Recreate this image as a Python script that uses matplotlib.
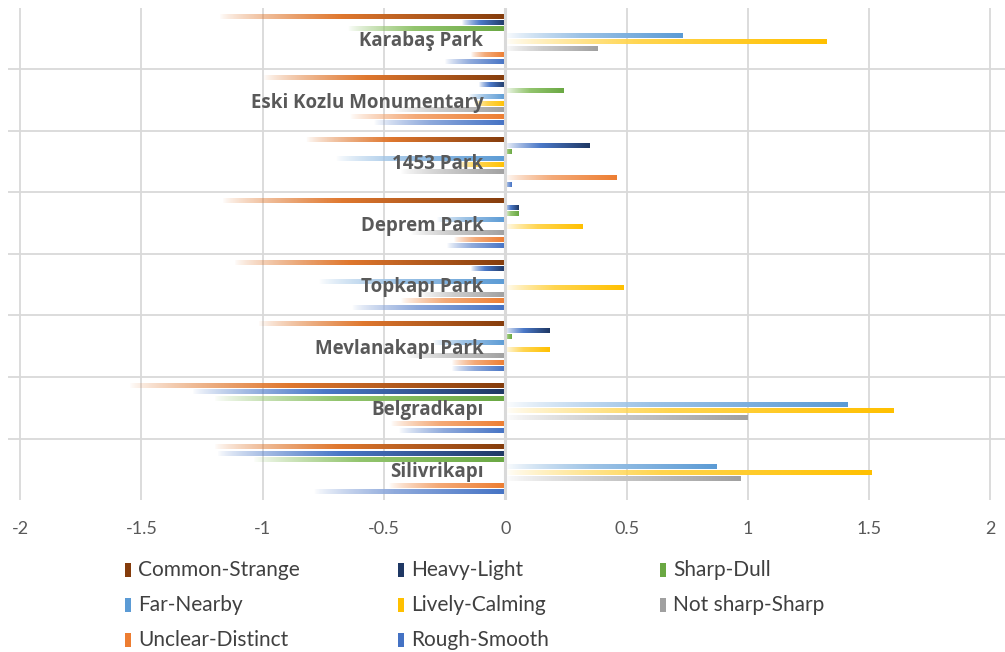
import numpy as np
import matplotlib
matplotlib.use("Agg")
import matplotlib.pyplot as plt
from matplotlib.colors import to_rgb
from matplotlib.patches import Rectangle

# parks, top to bottom
parks = ['Karabaş Park', 'Eski Kozlu Monumentary', '1453 Park', 'Deprem Park',
         'Topkapı Park', 'Mevlanakapı Park', 'Belgradkapı', 'Silivrikapı']

# mean semantic-differential scores per adjective pair
common_strange = [-1.18, -1.00, -0.82, -1.17, -1.12, -1.02, -1.55, -1.20]
heavy_light = [-0.18, -0.11, 0.35, 0.055, -0.14, 0.185, -1.29, -1.19]
sharp_dull = [-0.65, 0.24, 0.025, 0.055, 0.0, 0.025, -1.20, -1.04]
far_nearby = [0.73, -0.15, -0.70, -0.28, -0.77, -0.30, 1.41, 0.87]
lively_calming = [1.325, -0.13, -0.20, 0.32, 0.49, 0.185, 1.60, 1.51]
notsharp_sharp = [0.38, -0.46, -0.43, -0.39, -0.35, -0.41, 1.00, 0.97]
unclear_distinct = [-0.14, -0.64, 0.46, -0.21, -0.43, -0.22, -0.47, -0.48]
rough_smooth = [-0.25, -0.54, 0.025, -0.24, -0.63, -0.22, -0.44, -0.79]

series_names = ['Common-Strange', 'Heavy-Light', 'Sharp-Dull', 'Far-Nearby',
                'Lively-Calming', 'Not sharp-Sharp', 'Unclear-Distinct', 'Rough-Smooth']
series_values = [common_strange, heavy_light, sharp_dull, far_nearby,
                 lively_calming, notsharp_sharp, unclear_distinct, rough_smooth]
# (light/mid colour, dark end colour) for each gradient
series_colors = [('#E0782F', '#843C0C'), ('#4A78C8', '#1F3864'), ('#93C56E', '#6AA843'),
                 ('#9DC3E6', '#5B9BD5'), ('#FFD54F', '#FFC000'), ('#CBCBCB', '#A0A0A0'),
                 ('#F4AA78', '#ED7D31'), ('#8FAADC', '#4472C4')]

TEXT_FONT = ['Lato', 'DejaVu Sans']


def gradient_image(mid, dark, n=256):
    # transparent on the left, solid mid colour, darker at the right end
    t = np.linspace(0, 1, n)
    c_mid = np.array(to_rgb(mid))
    c_dark = np.array(to_rgb(dark))
    img = np.zeros((1, n, 4))
    for j, tt in enumerate(t):
        if tt < 0.42:
            img[0, j, :3] = c_mid
            img[0, j, 3] = (tt / 0.42) ** 0.75
        else:
            f = (tt - 0.42) / 0.58
            img[0, j, :3] = c_mid * (1 - f) + c_dark * f
            img[0, j, 3] = 1.0
    return img


fig = plt.figure(figsize=(10.05, 6.52), dpi=100)
ax = fig.add_axes([0.008, 0.233, 0.992, 0.755])

pitch = 0.1045
bar_h = 0.08
for k, (vals, (mid, dark)) in enumerate(zip(series_values, series_colors)):
    img = gradient_image(mid, dark)
    for i, v in enumerate(vals):
        if v == 0:
            continue
        yc = i + (k - 3.5) * pitch
        ax.imshow(img, extent=(min(0, v), max(0, v), yc + bar_h / 2, yc - bar_h / 2),
                  aspect='auto', interpolation='bilinear', zorder=3)

ax.set_xlim(-2.05, 2.06)
ax.set_ylim(7.5, -0.5)

# gridlines
for xv in np.arange(-2, 2.01, 0.5):
    lw = 2.2 if xv == 0 else 1.3
    ax.axvline(xv, color='#D9D9D9', lw=lw, zorder=1 if xv != 0 else 4)
for i in range(1, len(parks)):
    ax.axhline(i - 0.5, color='#D9D9D9', lw=1.3, zorder=1)

for i, name in enumerate(parks):
    ax.text(-0.09, i + 0.04, name, ha='right', va='center', fontsize=13.5,
            fontweight='bold', family='Open Sans', color='#595959', zorder=5)

for s in ax.spines.values():
    s.set_visible(False)
ax.set_yticks([])
ax.set_xticks(np.arange(-2, 2.01, 0.5))
ax.set_xticklabels(['-2', '-1.5', '-1', '-0.5', '0', '0.5', '1', '1.5', '2'])
ax.tick_params(axis='x', length=0, pad=15, labelsize=13, labelcolor='#595959')
for lab in ax.get_xticklabels():
    lab.set_family(TEXT_FONT)

# legend, three columns laid out row by row
col_x = [125, 398, 660]
row_y = [570, 605, 640]
W, H = 1005, 652
for n, (name, (mid, dark)) in enumerate(zip(series_names, series_colors)):
    r, c = divmod(n, 3)
    px, py = col_x[c], row_y[r]
    fig.patches.append(Rectangle((px / W, 1 - (py + 7) / H), 6 / W, 14 / H,
                                 transform=fig.transFigure, facecolor=dark,
                                 edgecolor='none'))
    fig.text((px + 13) / W, 1 - py / H, name, ha='left', va='center',
             fontsize=15, family=TEXT_FONT, color='#404040')

fig.savefig('out.png', dpi=100)
